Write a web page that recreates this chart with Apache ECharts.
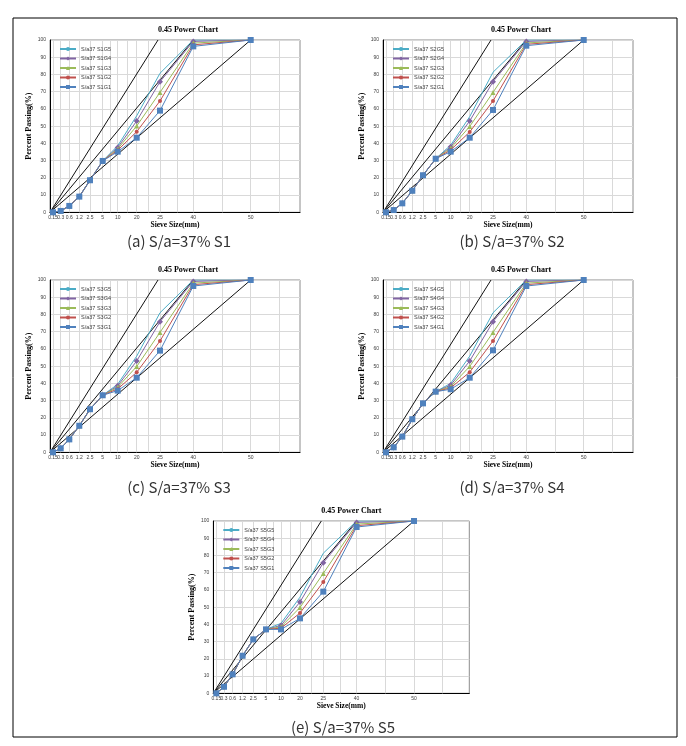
<!DOCTYPE html>
<html><head><meta charset="utf-8">
<script src="https://cdn.jsdelivr.net/npm/echarts@6/dist/echarts.min.js"></script>
<style>html,body{margin:0;padding:0;background:#fff}#c{width:686px;height:746px}</style>
</head><body><div id="c"></div>
<script>
// Sieve sizes and their position on the 0.45 power x-axis (axis units, as drawn)
const sieveLabels = ['0.15','0.3','0.6','1.2','2.5','5','10','20','25','40','50'];
const sievePos = [3, 10.7, 19.3, 29.3, 40, 52.7, 67.7, 86.7, 110, 143.3, 200.7];
const vGridPos = [3, 10.7, 19.3, 29.3, 40, 52.7, 60, 67.7, 77, 86.7, 98, 110, 127, 143.3, 172, 200.7, 229];
const yTicks = [0,10,20,30,40,50,60,70,80,90,100];
// maximum density / limit lines: from origin to (x, 100%)
const refLineTops = [108, 143.3, 200.7];

const seriesNames = ['G5','G4','G3','G2','G1'];

// S1
const s1G5 = [0, 0.8, 3.7, 9.1, 18.6, 29.8, 38.6, 56.0, 80.7, 100, 100];
const s1G4 = [0, 0.8, 3.7, 9.1, 18.6, 29.8, 37.6, 53.0, 75.8, 99.2, 100];
const s1G3 = [0, 0.8, 3.7, 9.1, 18.6, 29.8, 36.8, 50.1, 69.6, 98.2, 100];
const s1G2 = [0, 0.8, 3.7, 9.1, 18.6, 29.8, 36.0, 46.8, 64.6, 97.2, 100];
const s1G1 = [0, 0.8, 3.7, 9.1, 18.6, 29.8, 35.2, 43.3, 59.0, 96.3, 100];
// S2
const s2G5 = [0, 1.3, 5.2, 12.5, 21.5, 31.1, 39.0, 55.5, 81.3, 100, 100];
const s2G4 = [0, 1.3, 5.2, 12.5, 21.5, 31.1, 38.0, 53.0, 75.8, 99.2, 100];
const s2G3 = [0, 1.3, 5.2, 12.5, 21.5, 31.1, 37.2, 49.8, 69.6, 98.3, 100];
const s2G2 = [0, 1.3, 5.2, 12.5, 21.5, 31.1, 36.2, 46.6, 64.6, 97.5, 100];
const s2G1 = [0, 1.3, 5.2, 12.5, 21.5, 31.1, 35.2, 43.3, 59.4, 96.7, 100];
// S3
const s3G5 = [0, 2.3, 7.5, 15.4, 25.0, 33.1, 39.5, 55.8, 81.0, 100, 100];
const s3G4 = [0, 2.3, 7.5, 15.4, 25.0, 33.1, 38.6, 53.0, 75.8, 99.2, 100];
const s3G3 = [0, 2.3, 7.5, 15.4, 25.0, 33.1, 37.8, 49.8, 69.6, 98.2, 100];
const s3G2 = [0, 2.3, 7.5, 15.4, 25.0, 33.1, 36.8, 46.4, 64.6, 97.3, 100];
const s3G1 = [0, 2.3, 7.5, 15.4, 25.0, 33.1, 35.8, 43.3, 59.0, 96.5, 100];
// S4
const s4G5 = [0, 2.9, 9.1, 19.2, 28.4, 35.2, 40.0, 55.8, 81.0, 100, 100];
const s4G4 = [0, 2.9, 9.1, 19.2, 28.4, 35.2, 39.0, 53.0, 75.8, 99.2, 100];
const s4G3 = [0, 2.9, 9.1, 19.2, 28.4, 35.2, 38.2, 49.8, 69.6, 98.2, 100];
const s4G2 = [0, 2.9, 9.1, 19.2, 28.4, 35.2, 37.4, 46.5, 64.6, 97.3, 100];
const s4G1 = [0, 2.9, 9.1, 19.2, 28.4, 35.2, 36.6, 43.3, 59.2, 96.5, 100];
// S5
const s5G5 = [0, 3.8, 11.0, 21.8, 31.3, 37.1, 40.6, 55.8, 81.3, 100, 100];
const s5G4 = [0, 3.8, 11.0, 21.8, 31.3, 37.1, 39.4, 53.0, 75.8, 99.2, 100];
const s5G3 = [0, 3.8, 11.0, 21.8, 31.3, 37.1, 38.6, 49.8, 69.6, 98.2, 100];
const s5G2 = [0, 3.8, 11.0, 21.8, 31.3, 37.1, 37.8, 46.6, 64.6, 97.3, 100];
const s5G1 = [0, 3.8, 11.0, 21.8, 31.3, 37.1, 37.1, 43.5, 59.0, 96.5, 100];

const panelData = [
  [s1G5, s1G4, s1G3, s1G2, s1G1],
  [s2G5, s2G4, s2G3, s2G2, s2G1],
  [s3G5, s3G4, s3G3, s3G2, s3G1],
  [s4G5, s4G4, s4G3, s4G2, s4G1],
  [s5G5, s5G4, s5G3, s5G2, s5G1]
];
const panelIds = ['S1','S2','S3','S4','S5'];
const captions = ['(a) S/a=37% S1','(b) S/a=37% S2','(c) S/a=37% S3','(d) S/a=37% S4','(e) S/a=37% S5'];
const chartTitle = '0.45 Power Chart';
const xName = 'Sieve Size(mm)';
const yName = 'Percent Passing(%)';

// layout
const grids = [
  {left: 50, top: 40, width: 250, height: 172.3, xMax: 250},
  {left: 383, top: 40, width: 250, height: 172.3, xMax: 250},
  {left: 50, top: 280, width: 250, height: 172.3, xMax: 250},
  {left: 383, top: 280, width: 250, height: 172.3, xMax: 250},
  {left: 213.3, top: 521, width: 256, height: 172.3, xMax: 256}
];
const captionPos = [[179, 241], [512, 241], [179, 487], [512, 487], [343, 727]];
const colors = ['#4BACC6', '#8064A2', '#9BBB59', '#C0504D', '#4F81BD'];
const symbols = ['none', 'diamond', 'triangle', 'circle', 'rect'];
const symSizes = [0, 6, 5, 4, 6];
const labelValues = [0].concat(sievePos);

const serif = 'Liberation Serif';
const opt = {
  animation: false,
  backgroundColor: '#fff',
  grid: [], xAxis: [], yAxis: [], series: [], title: [], legend: [], graphic: []
};

grids.forEach((g, i) => {
  opt.grid.push({left: g.left, top: g.top, width: g.width, height: g.height, show: true,
    borderColor: '#8c8c8c', borderWidth: 1, containLabel: false});
  opt.title.push({text: chartTitle, left: g.left + 133, top: g.top - 19, textAlign: 'center',
    textStyle: {fontFamily: serif, fontWeight: 'bold', fontSize: 8, color: '#000'}});
  opt.xAxis.push({type: 'value', gridIndex: i, min: 0, max: g.xMax,
    name: xName, nameLocation: 'middle', nameGap: 9,
    nameTextStyle: {fontFamily: serif, fontWeight: 'bold', fontSize: 7.5, color: '#000'},
    axisLine: {show: true, lineStyle: {color: '#000', width: 1}},
    axisTick: {show: false},
    splitLine: {show: false},
    axisLabel: {customValues: labelValues, fontSize: 5, color: '#404040', margin: 3,
      showMinLabel: true, showMaxLabel: true, hideOverlap: false,
      formatter: v => { const k = sievePos.indexOf(v); return k >= 0 ? sieveLabels[k] : ''; }}
  });
  opt.yAxis.push({type: 'value', gridIndex: i, min: 0, max: 100, interval: 10,
    name: yName, nameLocation: 'middle', nameGap: 17, nameRotate: 90,
    nameTextStyle: {fontFamily: serif, fontWeight: 'bold', fontSize: 8, color: '#000'},
    axisLine: {show: true, lineStyle: {color: '#000', width: 1}},
    axisTick: {show: false},
    splitLine: {show: true, lineStyle: {color: '#d9d9d9', width: 1}},
    axisLabel: {fontSize: 5, color: '#404040', margin: 4}
  });
  // vertical gridlines
  opt.series.push({type: 'line', xAxisIndex: i, yAxisIndex: i, data: [], silent: true, z: 1,
    markLine: {silent: true, z: 1, symbol: ['none', 'none'], label: {show: false},
      lineStyle: {color: '#d9d9d9', type: 'solid', width: 1},
      data: vGridPos.filter(v => v < g.xMax).map(v => ({xAxis: v}))}});
  // reference lines
  refLineTops.forEach(t => {
    opt.series.push({type: 'line', xAxisIndex: i, yAxisIndex: i, data: [[0, 0], [t, 100]],
      symbol: 'none', silent: true, z: 6, lineStyle: {color: '#111', width: 1}});
  });
  const names = [];
  panelData[i].forEach((arr, s) => {
    const nm = 'S/a37 ' + panelIds[i] + seriesNames[s];
    names.push(nm);
    opt.series.push({type: 'line', name: nm, xAxisIndex: i, yAxisIndex: i,
      data: arr.map((y, k) => [sievePos[k], y]),
      symbol: symbols[s], symbolSize: symSizes[s], showSymbol: symbols[s] !== 'none',
      color: colors[s], lineStyle: {color: colors[s], width: 1}, z: 7 + s});
  });
  opt.legend.push({data: names, orient: 'vertical',
    left: g.left + 4, top: g.top + 1, itemGap: 3.5, itemWidth: 16, itemHeight: 5,
    textStyle: {fontSize: 5.5, color: '#404040'}, selectedMode: false});
  opt.graphic.push({type: 'text', x: captionPos[i][0], y: captionPos[i][1],
    style: {text: captions[i], font: '15px "Noto Sans CJK KR"', fill: '#333', textAlign: 'center', textVerticalAlign: 'middle'}});
});
opt.graphic.push({type: 'rect', shape: {x: 13, y: 18, width: 664, height: 719},
  style: {fill: 'none', stroke: '#000', lineWidth: 1}, silent: true});

const chart = echarts.init(document.getElementById('c'), null, {renderer: 'canvas'});
chart.setOption(opt);
</script></body></html>
